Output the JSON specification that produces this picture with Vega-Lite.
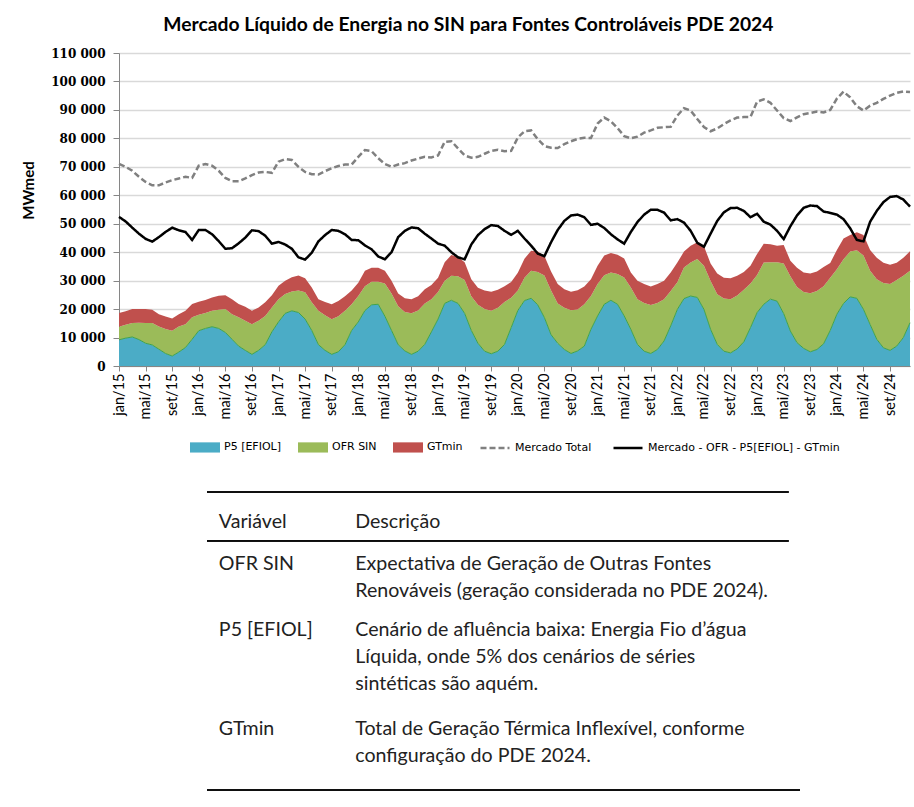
{
  "$schema": "https://vega.github.io/schema/vega-lite/v6.json",
  "background": "white",
  "padding": {"left": 21, "top": 15, "right": 0, "bottom": 0},
  "title": {"text": "Mercado Líquido de Energia no SIN para Fontes Controláveis PDE 2024", "font": "Lato", "fontSize": 19.3, "fontWeight": "bold", "color": "#000000", "anchor": "middle", "offset": 12},
  "bounds": "flush",
  "spacing": 126,
  "resolve": {
    "scale": {"x": "independent", "y": "independent", "fill": "independent", "stroke": "independent", "strokeDash": "independent"},
    "legend": {"fill": "independent", "stroke": "independent", "strokeDash": "independent"}
  },
  "config": {
    "font": "Lato",
    "view": {"stroke": null},
    "locale": {"number": {"decimal": ",", "thousands": " ", "grouping": [3], "currency": ["R$", ""]}},
    "legend": {"layout": {"bottom": {"anchor": "middle", "direction": "horizontal", "margin": 16}}}
  },
  "vconcat": [
    {
      "width": 791,
      "height": 313,
      "data": {"values": [
        {"mes":"jan/15","P5":9200,"OFR":4600,"GTmin":4800,"Mercado":71000,"Liquido":52400},
        {"mes":"fev/15","P5":9800,"OFR":4700,"GTmin":4700,"Mercado":70000,"Liquido":50800},
        {"mes":"mar/15","P5":10200,"OFR":4900,"GTmin":4900,"Mercado":68600,"Liquido":48600},
        {"mes":"abr/15","P5":9300,"OFR":5900,"GTmin":4800,"Mercado":66500,"Liquido":46500},
        {"mes":"mai/15","P5":8000,"OFR":7100,"GTmin":4900,"Mercado":64700,"Liquido":44700},
        {"mes":"jun/15","P5":7400,"OFR":7700,"GTmin":4700,"Mercado":63500,"Liquido":43700},
        {"mes":"jul/15","P5":5900,"OFR":8000,"GTmin":4300,"Mercado":63500,"Liquido":45300},
        {"mes":"ago/15","P5":4400,"OFR":8600,"GTmin":4400,"Mercado":64500,"Liquido":47100},
        {"mes":"set/15","P5":3500,"OFR":8900,"GTmin":4300,"Mercado":65300,"Liquido":48600},
        {"mes":"out/15","P5":4900,"OFR":9000,"GTmin":4300,"Mercado":65900,"Liquido":47700},
        {"mes":"nov/15","P5":6500,"OFR":8200,"GTmin":4700,"Mercado":66500,"Liquido":47100},
        {"mes":"dez/15","P5":9400,"OFR":7700,"GTmin":4700,"Mercado":66100,"Liquido":44300},
        {"mes":"jan/16","P5":12400,"OFR":5600,"GTmin":4600,"Mercado":70400,"Liquido":47800},
        {"mes":"fev/16","P5":13200,"OFR":5400,"GTmin":4600,"Mercado":71000,"Liquido":47800},
        {"mes":"mar/16","P5":13800,"OFR":5600,"GTmin":4700,"Mercado":70400,"Liquido":46300},
        {"mes":"abr/16","P5":13200,"OFR":6600,"GTmin":4900,"Mercado":68600,"Liquido":43900},
        {"mes":"mai/16","P5":11800,"OFR":8200,"GTmin":4900,"Mercado":66100,"Liquido":41200},
        {"mes":"jun/16","P5":9400,"OFR":8800,"GTmin":5300,"Mercado":64900,"Liquido":41400},
        {"mes":"jul/16","P5":7000,"OFR":10100,"GTmin":4700,"Mercado":64900,"Liquido":43100},
        {"mes":"ago/16","P5":5500,"OFR":10400,"GTmin":4900,"Mercado":65900,"Liquido":45100},
        {"mes":"set/16","P5":4100,"OFR":10600,"GTmin":4700,"Mercado":67100,"Liquido":47700},
        {"mes":"out/16","P5":5500,"OFR":10400,"GTmin":4700,"Mercado":68000,"Liquido":47400},
        {"mes":"nov/16","P5":7500,"OFR":10100,"GTmin":4800,"Mercado":68200,"Liquido":45800},
        {"mes":"dez/16","P5":12000,"OFR":8600,"GTmin":4300,"Mercado":67900,"Liquido":43000},
        {"mes":"jan/17","P5":15500,"OFR":8000,"GTmin":4700,"Mercado":71800,"Liquido":43600},
        {"mes":"fev/17","P5":18500,"OFR":6800,"GTmin":4700,"Mercado":72700,"Liquido":42700},
        {"mes":"mar/17","P5":19400,"OFR":6800,"GTmin":5000,"Mercado":72400,"Liquido":41200},
        {"mes":"abr/17","P5":18800,"OFR":7700,"GTmin":5300,"Mercado":70000,"Liquido":38200},
        {"mes":"mai/17","P5":16500,"OFR":9400,"GTmin":4900,"Mercado":68200,"Liquido":37400},
        {"mes":"jun/17","P5":12500,"OFR":9900,"GTmin":5200,"Mercado":67400,"Liquido":39800},
        {"mes":"jul/17","P5":7500,"OFR":11900,"GTmin":4100,"Mercado":67300,"Liquido":43800},
        {"mes":"ago/17","P5":5500,"OFR":12300,"GTmin":4700,"Mercado":68500,"Liquido":46000},
        {"mes":"set/17","P5":4100,"OFR":12300,"GTmin":5300,"Mercado":69500,"Liquido":47800},
        {"mes":"out/17","P5":5000,"OFR":12500,"GTmin":5300,"Mercado":70300,"Liquido":47500},
        {"mes":"nov/17","P5":7500,"OFR":11900,"GTmin":5100,"Mercado":70800,"Liquido":46300},
        {"mes":"dez/17","P5":12500,"OFR":9200,"GTmin":4800,"Mercado":70800,"Liquido":44300},
        {"mes":"jan/18","P5":15500,"OFR":9100,"GTmin":4700,"Mercado":73500,"Liquido":44200},
        {"mes":"fev/18","P5":19500,"OFR":8500,"GTmin":5500,"Mercado":75900,"Liquido":42400},
        {"mes":"mar/18","P5":21500,"OFR":8100,"GTmin":4900,"Mercado":75500,"Liquido":41000},
        {"mes":"abr/18","P5":21700,"OFR":7900,"GTmin":4900,"Mercado":73000,"Liquido":38500},
        {"mes":"mai/18","P5":17500,"OFR":11500,"GTmin":4500,"Mercado":71000,"Liquido":37500},
        {"mes":"jun/18","P5":12500,"OFR":13000,"GTmin":4500,"Mercado":70000,"Liquido":40000},
        {"mes":"jul/18","P5":7500,"OFR":13500,"GTmin":4500,"Mercado":70800,"Liquido":45300},
        {"mes":"ago/18","P5":5300,"OFR":13700,"GTmin":4800,"Mercado":71300,"Liquido":47500},
        {"mes":"set/18","P5":4100,"OFR":14400,"GTmin":5000,"Mercado":72200,"Liquido":48700},
        {"mes":"out/18","P5":5200,"OFR":14300,"GTmin":5000,"Mercado":72900,"Liquido":48400},
        {"mes":"nov/18","P5":7600,"OFR":14400,"GTmin":5000,"Mercado":73500,"Liquido":46500},
        {"mes":"dez/18","P5":12000,"OFR":11500,"GTmin":5000,"Mercado":73300,"Liquido":44800},
        {"mes":"jan/19","P5":16500,"OFR":9500,"GTmin":5000,"Mercado":74000,"Liquido":43000},
        {"mes":"fev/19","P5":22000,"OFR":8000,"GTmin":6500,"Mercado":78800,"Liquido":42300},
        {"mes":"mar/19","P5":23100,"OFR":8600,"GTmin":7300,"Mercado":79000,"Liquido":40000},
        {"mes":"abr/19","P5":22000,"OFR":9500,"GTmin":6800,"Mercado":76500,"Liquido":38200},
        {"mes":"mai/19","P5":18500,"OFR":11700,"GTmin":6300,"Mercado":74000,"Liquido":37500},
        {"mes":"jun/19","P5":12500,"OFR":12000,"GTmin":6000,"Mercado":73200,"Liquido":42700},
        {"mes":"jul/19","P5":8000,"OFR":13500,"GTmin":6000,"Mercado":73500,"Liquido":46000},
        {"mes":"ago/19","P5":5200,"OFR":14800,"GTmin":6500,"Mercado":74600,"Liquido":48100},
        {"mes":"set/19","P5":4300,"OFR":15100,"GTmin":6700,"Mercado":75600,"Liquido":49500},
        {"mes":"out/19","P5":5200,"OFR":15300,"GTmin":6300,"Mercado":76000,"Liquido":49200},
        {"mes":"nov/19","P5":7600,"OFR":14900,"GTmin":5500,"Mercado":75500,"Liquido":47500},
        {"mes":"dez/19","P5":13500,"OFR":10500,"GTmin":5500,"Mercado":75600,"Liquido":46100},
        {"mes":"jan/20","P5":19500,"OFR":7000,"GTmin":6300,"Mercado":80300,"Liquido":47500},
        {"mes":"fev/20","P5":23000,"OFR":8000,"GTmin":6700,"Mercado":82500,"Liquido":44800},
        {"mes":"mar/20","P5":23800,"OFR":9700,"GTmin":7000,"Mercado":82800,"Liquido":42300},
        {"mes":"abr/20","P5":21500,"OFR":11500,"GTmin":7200,"Mercado":79700,"Liquido":39500},
        {"mes":"mai/20","P5":17000,"OFR":14800,"GTmin":6900,"Mercado":77300,"Liquido":38600},
        {"mes":"jun/20","P5":11000,"OFR":15500,"GTmin":6700,"Mercado":76700,"Liquido":43500},
        {"mes":"jul/20","P5":8000,"OFR":14000,"GTmin":6800,"Mercado":76600,"Liquido":47800},
        {"mes":"ago/20","P5":5800,"OFR":14700,"GTmin":6500,"Mercado":78000,"Liquido":51000},
        {"mes":"set/20","P5":4400,"OFR":15200,"GTmin":6500,"Mercado":79000,"Liquido":52900},
        {"mes":"out/20","P5":5300,"OFR":14600,"GTmin":6700,"Mercado":79800,"Liquido":53200},
        {"mes":"nov/20","P5":7000,"OFR":14700,"GTmin":6200,"Mercado":80200,"Liquido":52300},
        {"mes":"dez/20","P5":12900,"OFR":11700,"GTmin":5900,"Mercado":80100,"Liquido":49600},
        {"mes":"jan/21","P5":17600,"OFR":11200,"GTmin":6400,"Mercado":85200,"Liquido":50000},
        {"mes":"fev/21","P5":21700,"OFR":10200,"GTmin":6900,"Mercado":87300,"Liquido":48500},
        {"mes":"mar/21","P5":23100,"OFR":9800,"GTmin":6800,"Mercado":86000,"Liquido":46300},
        {"mes":"abr/21","P5":21700,"OFR":10600,"GTmin":6800,"Mercado":83600,"Liquido":44500},
        {"mes":"mai/21","P5":17600,"OFR":13500,"GTmin":6700,"Mercado":80800,"Liquido":43000},
        {"mes":"jun/21","P5":12900,"OFR":14700,"GTmin":5300,"Mercado":80000,"Liquido":47100},
        {"mes":"jul/21","P5":7600,"OFR":15900,"GTmin":6500,"Mercado":80600,"Liquido":50600},
        {"mes":"ago/21","P5":5200,"OFR":16900,"GTmin":6700,"Mercado":82000,"Liquido":53200},
        {"mes":"set/21","P5":4400,"OFR":17000,"GTmin":6500,"Mercado":82800,"Liquido":54900},
        {"mes":"out/21","P5":5800,"OFR":16300,"GTmin":6700,"Mercado":83700,"Liquido":54900},
        {"mes":"nov/21","P5":8800,"OFR":14700,"GTmin":6500,"Mercado":83900,"Liquido":53900},
        {"mes":"dez/21","P5":14100,"OFR":12300,"GTmin":6500,"Mercado":84100,"Liquido":51200},
        {"mes":"jan/22","P5":19900,"OFR":9500,"GTmin":7000,"Mercado":88000,"Liquido":51600},
        {"mes":"fev/22","P5":23700,"OFR":10900,"GTmin":5600,"Mercado":90600,"Liquido":50400},
        {"mes":"mar/22","P5":24600,"OFR":11800,"GTmin":5900,"Mercado":89800,"Liquido":47500},
        {"mes":"abr/22","P5":24100,"OFR":13500,"GTmin":5900,"Mercado":86800,"Liquido":43300},
        {"mes":"mai/22","P5":19900,"OFR":15300,"GTmin":6900,"Mercado":84000,"Liquido":41900},
        {"mes":"jun/22","P5":12900,"OFR":17000,"GTmin":6100,"Mercado":82500,"Liquido":46500},
        {"mes":"jul/22","P5":7600,"OFR":17600,"GTmin":7300,"Mercado":83500,"Liquido":51000},
        {"mes":"ago/22","P5":5200,"OFR":18500,"GTmin":7300,"Mercado":85000,"Liquido":54000},
        {"mes":"set/22","P5":4600,"OFR":18900,"GTmin":7300,"Mercado":86300,"Liquido":55500},
        {"mes":"out/22","P5":6000,"OFR":18800,"GTmin":6900,"Mercado":87300,"Liquido":55600},
        {"mes":"nov/22","P5":8500,"OFR":18300,"GTmin":6200,"Mercado":87500,"Liquido":54500},
        {"mes":"dez/22","P5":13500,"OFR":15500,"GTmin":6200,"Mercado":87500,"Liquido":52300},
        {"mes":"jan/23","P5":18800,"OFR":13200,"GTmin":7400,"Mercado":92900,"Liquido":53500},
        {"mes":"fev/23","P5":21700,"OFR":14700,"GTmin":6600,"Mercado":93700,"Liquido":50700},
        {"mes":"mar/23","P5":23500,"OFR":13000,"GTmin":6300,"Mercado":92500,"Liquido":49700},
        {"mes":"abr/23","P5":22800,"OFR":13700,"GTmin":5800,"Mercado":89800,"Liquido":47500},
        {"mes":"mai/23","P5":18400,"OFR":17600,"GTmin":6500,"Mercado":87100,"Liquido":44600},
        {"mes":"jun/23","P5":12300,"OFR":19200,"GTmin":5500,"Mercado":86100,"Liquido":49100},
        {"mes":"jul/23","P5":8200,"OFR":19600,"GTmin":6700,"Mercado":87400,"Liquido":52900},
        {"mes":"ago/23","P5":6200,"OFR":19800,"GTmin":6900,"Mercado":88500,"Liquido":55600},
        {"mes":"set/23","P5":5000,"OFR":20600,"GTmin":6900,"Mercado":88900,"Liquido":56400},
        {"mes":"out/23","P5":5800,"OFR":20600,"GTmin":6800,"Mercado":89400,"Liquido":56200},
        {"mes":"nov/23","P5":7800,"OFR":20200,"GTmin":6800,"Mercado":89100,"Liquido":54300},
        {"mes":"dez/23","P5":12500,"OFR":18500,"GTmin":5200,"Mercado":90000,"Liquido":53800},
        {"mes":"jan/24","P5":18200,"OFR":15800,"GTmin":6800,"Mercado":94000,"Liquido":53200},
        {"mes":"fev/24","P5":22000,"OFR":15500,"GTmin":7300,"Mercado":96400,"Liquido":51600},
        {"mes":"mar/24","P5":24300,"OFR":15900,"GTmin":5800,"Mercado":94400,"Liquido":48400},
        {"mes":"abr/24","P5":23800,"OFR":16900,"GTmin":6300,"Mercado":91300,"Liquido":44300},
        {"mes":"mai/24","P5":19900,"OFR":18900,"GTmin":7200,"Mercado":89800,"Liquido":43800},
        {"mes":"jun/24","P5":14600,"OFR":18900,"GTmin":7300,"Mercado":91500,"Liquido":50700},
        {"mes":"jul/24","P5":9400,"OFR":21100,"GTmin":7500,"Mercado":92500,"Liquido":54500},
        {"mes":"ago/24","P5":6400,"OFR":22800,"GTmin":7100,"Mercado":93900,"Liquido":57600},
        {"mes":"set/24","P5":5500,"OFR":23300,"GTmin":6800,"Mercado":95000,"Liquido":59400},
        {"mes":"out/24","P5":7000,"OFR":23200,"GTmin":6100,"Mercado":96000,"Liquido":59700},
        {"mes":"nov/24","P5":10000,"OFR":21700,"GTmin":6300,"Mercado":96500,"Liquido":58500},
        {"mes":"dez/24","P5":15200,"OFR":18300,"GTmin":6800,"Mercado":96300,"Liquido":56000}
      ]},
      "encoding": {
        "x": {
          "field": "mes", "type": "ordinal", "sort": null,
          "scale": {"type": "point", "padding": 0},
          "axis": {
            "title": null,
            "values": ["jan/15","mai/15","set/15","jan/16","mai/16","set/16","jan/17","mai/17","set/17","jan/18","mai/18","set/18","jan/19","mai/19","set/19","jan/20","mai/20","set/20","jan/21","mai/21","set/21","jan/22","mai/22","set/22","jan/23","mai/23","set/23","jan/24","mai/24","set/24"],
            "labelAngle": -90, "labelAlign": "right", "labelBaseline": "middle",
            "labelFont": "Lato", "labelFontSize": 14.5, "labelColor": "#000000", "labelPadding": 2,
            "tickColor": "#868686", "tickSize": 5, "domainColor": "#868686", "domainWidth": 1, "grid": false
          }
        }
      },
      "layer": [
        {
          "transform": [{"fold": ["P5", "OFR", "GTmin"], "as": ["serie", "valor"]}],
          "mark": {"type": "area", "opacity": 1},
          "encoding": {
            "y": {
              "field": "valor", "type": "quantitative", "stack": "zero",
              "scale": {"domain": [0, 110000], "nice": false},
              "axis": {
                "title": "MWmed", "titleFont": "Lato", "titleFontSize": 15, "titleFontWeight": "bold", "titleColor": "#000000", "titlePadding": 14,
                "titleY": 137,
                "values": [0,10000,20000,30000,40000,50000,60000,70000,80000,90000,100000,110000],
                "format": ",d", "labelOverlap": false,
                "labelFont": "DejaVu Serif", "labelFontWeight": "bold", "labelFontSize": 12, "labelColor": "#000000", "labelPadding": 8,
                "grid": true, "gridColor": "#D9D9D9", "gridWidth": 1.3,
                "domainColor": "#868686", "tickColor": "#868686", "tickSize": 6
              }
            },
            "fill": {
              "field": "serie", "type": "nominal",
              "scale": {"domain": ["P5", "OFR", "GTmin"], "range": ["#4BACC6", "#9BBB59", "#C0504D"]},
              "legend": {
                "title": null, "orient": "bottom", "direction": "horizontal",
                "symbolType": "M-1,-0.34H1V0.34H-1Z", "symbolSize": 900, "symbolStrokeWidth": 0,
                "labelFont": "DejaVu Sans", "labelFontSize": 11, "labelColor": "#000000", "labelLimit": 300,
                "columnPadding": 16, "offset": 13,
                "labelExpr": "datum.label == 'P5' ? 'P5 [EFIOL]' : datum.label == 'OFR' ? 'OFR SIN' : 'GTmin'"
              }
            },
            "order": {"field": "serie", "sort": "descending"}
          }
        },
        {
          "mark": {"type": "line", "color": "#3FA34D", "strokeWidth": 1},
          "encoding": {
            "y": {
              "field": "P5", "type": "quantitative",
              "scale": {"domain": [0, 110000], "nice": false},
              "axis": {
                "title": "MWmed", "titleFont": "Lato", "titleFontSize": 15, "titleFontWeight": "bold", "titleColor": "#000000", "titlePadding": 14,
                "titleY": 137,
                "values": [0,10000,20000,30000,40000,50000,60000,70000,80000,90000,100000,110000],
                "format": ",d", "labelOverlap": false,
                "labelFont": "DejaVu Serif", "labelFontWeight": "bold", "labelFontSize": 12, "labelColor": "#000000", "labelPadding": 8,
                "grid": true, "gridColor": "#D9D9D9", "gridWidth": 1.3,
                "domainColor": "#868686", "tickColor": "#868686", "tickSize": 6
              }
            }
          }
        },
        {
          "transform": [{"fold": ["Mercado", "Liquido"], "as": ["linha", "valor"]}],
          "mark": {"type": "line", "strokeWidth": 2.5},
          "encoding": {
            "y": {
              "field": "valor", "type": "quantitative",
              "scale": {"domain": [0, 110000], "nice": false},
              "axis": {
                "title": "MWmed", "titleFont": "Lato", "titleFontSize": 15, "titleFontWeight": "bold", "titleColor": "#000000", "titlePadding": 14,
                "titleY": 137,
                "values": [0,10000,20000,30000,40000,50000,60000,70000,80000,90000,100000,110000],
                "format": ",d", "labelOverlap": false,
                "labelFont": "DejaVu Serif", "labelFontWeight": "bold", "labelFontSize": 12, "labelColor": "#000000", "labelPadding": 8,
                "grid": true, "gridColor": "#D9D9D9", "gridWidth": 1.3,
                "domainColor": "#868686", "tickColor": "#868686", "tickSize": 6
              }
            },
            "stroke": {
              "field": "linha", "type": "nominal",
              "scale": {"domain": ["Mercado", "Liquido"], "range": ["#808080", "#000000"]},
              "legend": {
                "title": null, "orient": "bottom", "direction": "horizontal",
                "symbolType": "stroke", "symbolSize": 841, "symbolStrokeWidth": 2.5,
                "labelFont": "DejaVu Sans", "labelFontSize": 11, "labelColor": "#000000", "labelLimit": 300,
                "columnPadding": 16, "offset": 13,
                "labelExpr": "datum.label == 'Mercado' ? 'Mercado Total' : 'Mercado - OFR - P5[EFIOL] - GTmin'"
              }
            },
            "strokeDash": {
              "field": "linha", "type": "nominal",
              "scale": {"domain": ["Mercado", "Liquido"], "range": [[6, 3], [1, 0]]},
              "legend": {
                "title": null, "orient": "bottom", "direction": "horizontal",
                "symbolType": "stroke", "symbolSize": 841, "symbolStrokeWidth": 2.5,
                "labelFont": "DejaVu Sans", "labelFontSize": 11, "labelColor": "#000000", "labelLimit": 300,
                "columnPadding": 16, "offset": 13,
                "labelExpr": "datum.label == 'Mercado' ? 'Mercado Total' : 'Mercado - OFR - P5[EFIOL] - GTmin'"
              }
            }
          }
        }
      ]
    },
    {
      "width": 791,
      "height": 298,
      "data": {"values": [
        {"linha": 0, "variavel": "Variável", "descricao": "Descrição"},
        {"linha": 1, "variavel": "OFR SIN", "descricao": "Expectativa de Geração de Outras Fontes\nRenováveis (geração considerada no PDE 2024)."},
        {"linha": 3, "variavel": "P5 [EFIOL]", "descricao": "Cenário de afluência baixa: Energia Fio d’água\nLíquida, onde 5% dos cenários de séries\nsintéticas são aquém."},
        {"linha": 6, "variavel": "GTmin", "descricao": "Total de Geração Térmica Inflexível, conforme\nconfiguração do PDE 2024."}
      ]},
      "layer": [
        {
          "mark": {"type": "rule", "color": "#000000", "strokeWidth": 1},
          "encoding": {
            "x": {"datum": 0, "type": "quantitative", "scale": {"domain": [0, 100], "range": [88, 681], "nice": false, "zero": false}, "axis": null},
            "x2": {"datum": 98.1},
            "y": {"datum": -0.894, "type": "quantitative", "scale": {"domain": [-0.894, 8.136], "reverse": true, "nice": false, "zero": false}, "axis": null}
          }
        },
        {
          "mark": {"type": "rule", "color": "#000000", "strokeWidth": 1},
          "encoding": {
            "x": {"datum": 0, "type": "quantitative"},
            "x2": {"datum": 98.1},
            "y": {"datum": 0.59, "type": "quantitative"}
          }
        },
        {
          "mark": {"type": "rule", "color": "#000000", "strokeWidth": 1},
          "encoding": {
            "x": {"datum": 0, "type": "quantitative"},
            "x2": {"datum": 100},
            "y": {"datum": 8.136, "type": "quantitative"}
          }
        },
        {
          "transform": [{"filter": "datum.linha == 0"}],
          "mark": {"type": "text", "align": "left", "baseline": "middle", "font": "Lato", "fontSize": 19.6, "color": "#222222"},
          "encoding": {
            "x": {"datum": 2, "type": "quantitative"},
            "y": {"field": "linha", "type": "quantitative"},
            "text": {"field": "variavel"}
          }
        },
        {
          "transform": [{"filter": "datum.linha == 0"}],
          "mark": {"type": "text", "align": "left", "baseline": "middle", "font": "Lato", "fontSize": 19.6, "color": "#222222"},
          "encoding": {
            "x": {"datum": 25, "type": "quantitative"},
            "y": {"field": "linha", "type": "quantitative"},
            "text": {"field": "descricao"}
          }
        },
        {
          "transform": [{"filter": "datum.linha > 0"}],
          "mark": {"type": "text", "align": "left", "baseline": "top", "lineBreak": "\n", "lineHeight": 27, "font": "Lato", "fontSize": 19.6, "color": "#222222"},
          "encoding": {
            "x": {"datum": 2, "type": "quantitative"},
            "y": {"field": "linha", "type": "quantitative"},
            "text": {"field": "variavel"}
          }
        },
        {
          "transform": [{"filter": "datum.linha > 0"}],
          "mark": {"type": "text", "align": "left", "baseline": "top", "lineBreak": "\n", "lineHeight": 27, "font": "Lato", "fontSize": 19.6, "color": "#222222"},
          "encoding": {
            "x": {"datum": 25, "type": "quantitative"},
            "y": {"field": "linha", "type": "quantitative"},
            "text": {"field": "descricao"}
          }
        }
      ]
    }
  ]
}
